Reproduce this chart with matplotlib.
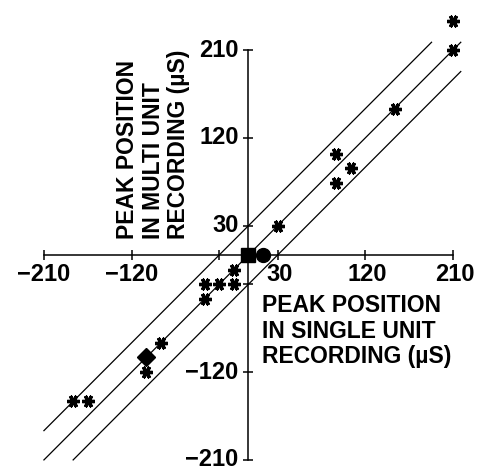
import matplotlib
matplotlib.use("Agg")
import matplotlib.pyplot as plt
import numpy as np

plt.rcParams['font.family'] = ['Liberation Sans', 'DejaVu Sans']

# data (microseconds)
star_x = [210, 210, 150, 90, 105, 90, 30, -15, -45, -30, -15, -45, -90, -105, -180, -165]
star_y = [240, 210, 150, 104, 89, 74, 30, -15, -30, -30, -30, -45, -90, -120, -150, -150]
diamond_x = [-105]
diamond_y = [-105]
square_x = [0]
square_y = [0]
circle_x = [15]
circle_y = [0]
line_offsets = [30, 0, -30]
ticks = [-210, -120, -30, 30, 120, 210]
xtick_labels = ['\u2212210', '\u2212120', '', '30', '120', '210']
ytick_labels = ['\u2212210', '\u2212120', '', '30', '120', '210']

fig = plt.figure(figsize=(4.78, 4.73), dpi=100)
ax = fig.add_axes([0, 0, 1, 1])
ax.set_xlim(-255.1, 235.7)
ax.set_ylim(-223.4, 261.3)

for s in ['top', 'right']:
    ax.spines[s].set_visible(False)
ax.spines['left'].set_position(('data', 0))
ax.spines['bottom'].set_position(('data', 0))
ax.spines['left'].set_bounds(-210, 210)
ax.spines['bottom'].set_bounds(-210, 210)
for s in ['left', 'bottom']:
    ax.spines[s].set_linewidth(1.1)
    ax.spines[s].set_color('black')

ax.set_xticks(ticks)
ax.set_yticks(ticks)
ax.set_xticklabels([])
ax.set_yticklabels([])
ax.tick_params(direction='inout', length=7, width=1.1, colors='black')

fs = 16.5
tfs = 17
fw = 'bold'
for t, lab in zip(ticks, xtick_labels):
    if not lab:
        continue
    if t < 0:
        ax.text(t, -8, lab, ha='center', va='top', fontsize=tfs, fontweight=fw)
    else:
        ax.text(t + 2, -8, lab, ha='center', va='top', fontsize=tfs, fontweight=fw)
for t, lab in zip(ticks, ytick_labels):
    if not lab:
        continue
    ax.text(-10, t, lab, ha='right', va='center', fontsize=tfs, fontweight=fw)

# diagonal lines, clipped to the plotting square
lo, hi = -210, 218
for off in line_offsets:
    x0 = max(lo, lo - off)
    x1 = min(hi, hi - off)
    xs = np.array([x0, x1])
    ax.plot(xs, xs + off, color='black', lw=0.9)

ax.plot(star_x, star_y, linestyle='none', marker=(6, 2, 30), ms=9, mew=2.4,
        color='black')
ax.plot(diamond_x, diamond_y, linestyle='none', marker='D', ms=9, color='black')
ax.plot(square_x, square_y, linestyle='none', marker='s', ms=10, color='black')
ax.plot(circle_x, circle_y, linestyle='none', marker='o', ms=10, color='black')

ax.text(14, -40, 'PEAK POSITION\nIN SINGLE UNIT\nRECORDING (\u00b5S)', ha='left', va='top',
        fontsize=fs, fontweight=fw, linespacing=1.15)
ax.text(-136, 16, 'PEAK POSITION\nIN MULTI UNIT\nRECORDING (\u00b5S)', ha='left', va='top',
        rotation=90, rotation_mode='anchor', fontsize=fs, fontweight=fw, linespacing=1.15,
        multialignment='left')

fig.savefig('out.png', dpi=100)
